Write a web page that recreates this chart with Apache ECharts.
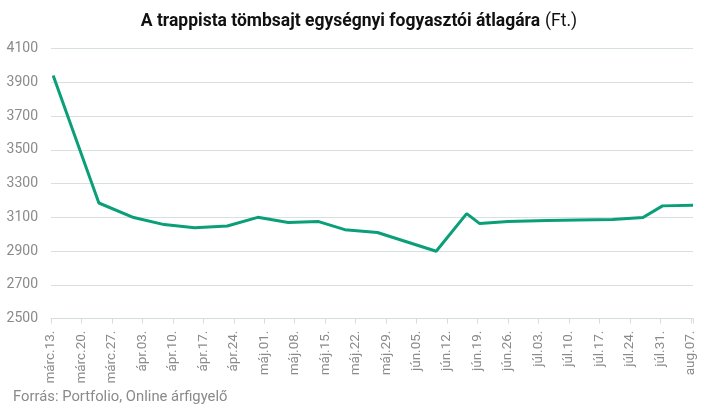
<!DOCTYPE html>
<html>
<head>
<meta charset="utf-8">
<script src="https://cdn.jsdelivr.net/npm/echarts@6/dist/echarts.min.js"></script>
<style>
html,body{margin:0;padding:0;background:#fff;}
#chart{width:718px;height:415px;}
</style>
</head>
<body>
<div id="chart"></div>
<script>
// Tick labels (weekly, starting at márc.13., day offset 0)
const tickLabels = ['márc.13.','márc.20.','márc.27.','ápr.03.','ápr.10.','ápr.17.','ápr.24.','máj.01.','máj.08.','máj.15.','máj.22.','máj.29.','jún.05.','jún.12.','jún.19.','jún.26.','júl.03.','júl.10.','júl.17.','júl.24.','júl.31.','aug.07.'];
// Observation dates as day offsets from márc.13.
const dayOffsets = [0.5, 11, 19, 26, 33, 40.5, 47.5, 54.5, 61.5, 67.5, 75, 88.5, 95.5, 98.5, 105, 114, 121, 129, 136, 140.5, 147.5];
// Average consumer price (Ft.)
const prices = [3940, 3185, 3099, 3057, 3039, 3049, 3100, 3069, 3075, 3027, 3010, 2899, 3122, 3063, 3075, 3081, 3084, 3087, 3099, 3168, 3172];

const chart = echarts.init(document.getElementById('chart'));
const seriesData = dayOffsets.map((d, i) => [d, prices[i]]);
const labelColor = '#8a8a8a';
const font = 'Roboto, "Noto Sans", sans-serif';

chart.setOption({
  animation: false,
  title: {
    text: '{b|A trappista tömbsajt egységnyi fogyasztói átlagára} {r|(Ft.)}',
    left: 'center',
    top: 8,
    textStyle: {
      rich: {
        b: {fontFamily: font, fontWeight: 'bold', fontSize: 17.5, color: '#111'},
        r: {fontFamily: font, fontWeight: 'normal', fontSize: 17.5, color: '#111'}
      }
    }
  },
  graphic: [{
    type: 'text',
    left: 13,
    top: 390,
    style: {text: 'Forrás: Portfolio, Online árfigyelő', fontFamily: font, fontSize: 14.8, fill: labelColor}
  }],
  grid: {left: 51, right: 25, top: 48.6, bottom: 96.4, containLabel: false},
  xAxis: {
    type: 'value',
    min: 0,
    max: 147.5,
    interval: 7,
    splitLine: {show: false},
    axisLine: {show: true, lineStyle: {color: '#d5dcdc', width: 1}},
    axisTick: {show: true, length: 5, lineStyle: {color: '#d5dcdc'}},
    axisLabel: {
      rotate: 90,
      margin: 12,
      fontFamily: font,
      fontSize: 13.5,
      color: labelColor,
      showMaxLabel: true,
      formatter: function (v) {
        if (Math.abs(v / 7 - Math.round(v / 7)) > 1e-6) return '';
        return tickLabels[Math.round(v / 7)] || '';
      }
    }
  },
  yAxis: {
    type: 'value',
    min: 2500,
    max: 4100,
    interval: 200,
    axisLine: {show: false},
    axisTick: {show: false},
    splitLine: {show: true, lineStyle: {color: '#d8dfdf', width: 1}},
    axisLabel: {margin: 13, fontFamily: font, fontSize: 14, color: labelColor, formatter: function (v) { return String(v); }}
  },
  series: [{
    type: 'line',
    data: seriesData,
    showSymbol: false,
    symbol: 'none',
    lineStyle: {color: '#0a9f78', width: 3},
    clip: false
  }]
});
</script>
</body>
</html>
